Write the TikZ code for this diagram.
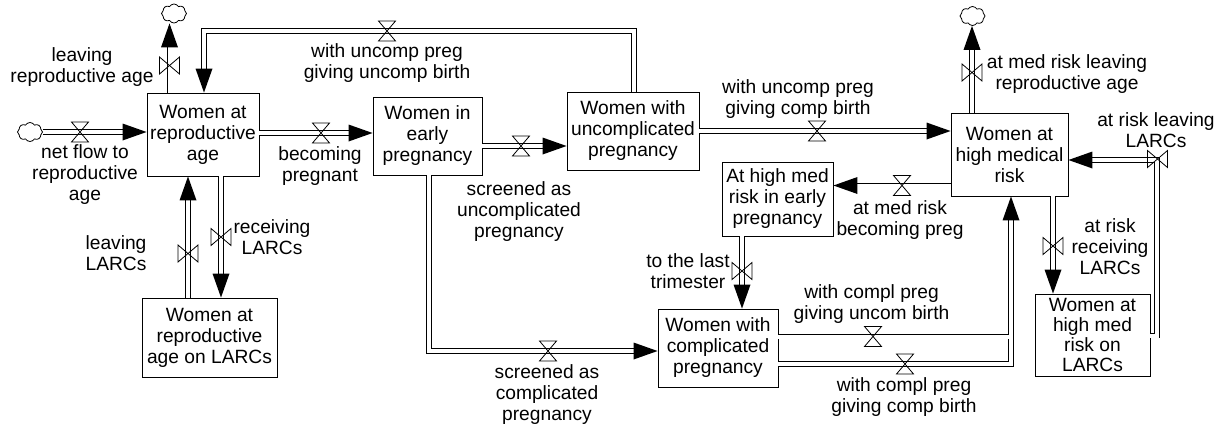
\documentclass[tikz,border=0pt]{standalone}
\usepackage{fontspec}
\setmainfont{Liberation Sans}
\usetikzlibrary{shapes.symbols,calc}
\tikzset{
  pics/hvalve/.style={code={\draw[line width=0.8pt] (-8.5,-10) -- (8.5,-10) -- (-8.5,10) -- (8.5,10) -- cycle;}},
  pics/vvalve/.style={code={\draw[line width=0.8pt] (-10,-8.5) -- (-10,8.5) -- (10,-8.5) -- (10,8.5) -- cycle;}},
  pics/tipR/.style={code={\fill (0,0) -- (-24,-8.5) -- (-24,8.5) -- cycle;}},
  pics/tipL/.style={code={\fill (0,0) -- (24,-8.5) -- (24,8.5) -- cycle;}},
  pics/tipU/.style={code={\fill (0,0) -- (-8.5,24) -- (8.5,24) -- cycle;}},
  pics/tipD/.style={code={\fill (0,0) -- (-8.5,-24) -- (8.5,-24) -- cycle;}},
}
\begin{document}
\begin{tikzpicture}[x=1pt,y=-1pt,
  stock/.style={draw, line width=0.9pt, rectangle, inner sep=0pt, align=center, font=\fontsize{19.2}{21}\selectfont},
  lbl/.style={align=center, inner sep=0pt, font=\fontsize{19.2}{21}\selectfont},
  pipe/.style={draw, line width=0.9pt, double=white, double distance=4pt},
  pipeA/.style={pipe, shorten >=10pt},
  cloudn/.style={cloud, draw, line width=0.8pt, cloud puffs=8, cloud puff arc=120, minimum width=25pt, minimum height=19pt, inner sep=0pt, aspect=1.4}]
\fill[white] (0,0) rectangle (1220,429);
\useasboundingbox (0,0) rectangle (1220,429);

% stocks
\node[stock, minimum width=112pt, minimum height=83pt] (b1) at (203,134.5) {Women at\\reproductive\\age};
\node[stock, minimum width=109pt, minimum height=78pt] (b2) at (427.5,136) {Women in\\early\\pregnancy};
\node[stock, minimum width=132pt, minimum height=78pt] (b3) at (633,131) {Women with\\uncomplicated\\pregnancy};
\node[stock, minimum width=117pt, minimum height=83pt] (b4) at (1009.5,154.5) {Women at\\high medical\\risk};
\node[stock, minimum width=111pt, minimum height=74pt] (b5) at (777.5,199) {At high med\\risk in early\\pregnancy};
\node[stock, minimum width=120pt, minimum height=78pt] (b6) at (718,348) {Women with\\complicated\\pregnancy};
\node[stock, minimum width=135pt, minimum height=79pt] (b7) at (209.5,337.5) {Women at\\reproductive\\age on LARCs};
\node[stock, minimum width=115pt, minimum height=82pt, font=\fontsize{19.2}{19.7}\selectfont] (b8) at (1092.5,335) {Women at\\high med\\risk on\\LARCs};

% clouds
\node[cloudn] (c1) at (30,132) {};
\node[cloudn] (c2) at (174,13.5) {};
\node[cloudn] (c3) at (972.5,16) {};

% pipes
\draw[pipeA] (c1.east) -- (c1.east -| b1.west);
\pic at (c1.east -| b1.west) {tipR};

\draw[pipeA] (169.5,0 |- b1.north) -- (169.5,0 |- c2.south);
\pic at (169.5,0 |- c2.south) {tipU};

\draw[pipeA] (634,0 |- b3.north) -- (634,31) -- (204,31) -- (204,0 |- b1.north);
\pic at (204,0 |- b1.north) {tipD};

\draw[pipeA] (b1.east |- 0,133) -- (b2.west |- 0,133);
\pic at (b2.west |- 0,133) {tipR};

\draw[pipeA] (b2.east |- 0,146) -- (b3.west |- 0,146);
\pic at (b3.west |- 0,146) {tipR};

\draw[pipeA] (429,0 |- b2.south) -- (429,351) -- (b6.west |- 0,351);
\pic at (b6.west |- 0,351) {tipR};

\draw[pipeA] (b3.east |- 0,131) -- (b4.west |- 0,131);
\pic at (b4.west |- 0,131) {tipR};

\draw[pipeA] (972,0 |- b4.north) -- (972,0 |- c3.south);
\pic at (972,0 |- c3.south) {tipU};

\draw[pipeA] (b4.west |- 0,185.5) -- (b5.east |- 0,185.5);
\pic at (b5.east |- 0,185.5) {tipL};

\draw[pipeA] (b8.east |- 0,335.5) -- (1157,335.5) -- (1157,160) -- (b4.east |- 0,160);
\pic at (b4.east |- 0,160) {tipL};

\draw[pipeA] (1053,0 |- b4.south) -- (1053,0 |- b8.north);
\pic at (1053,0 |- b8.north) {tipD};

\draw[pipeA] (742,0 |- b5.south) -- (742,0 |- b6.north);
\pic at (742,0 |- b6.north) {tipD};

\draw[pipeA] (b6.east |- 0,364) -- (1011,364) -- (1011,0 |- b4.south);
\draw[pipeA] (b6.east |- 0,336.5) -- (1011,336.5) -- (1011,0 |- b4.south);
\pic at (1011,0 |- b4.south) {tipU};

\draw[pipeA] (188,0 |- b7.north) -- (188,0 |- b1.south);
\pic at (188,0 |- b1.south) {tipU};

\draw[pipeA] (221,0 |- b1.south) -- (221,0 |- b7.north);
\pic at (221,0 |- b7.north) {tipD};

% valves
\coordinate (v1) at (80,132);    \pic at (v1) {hvalve};
\coordinate (v2) at (169.5,65.5);\pic at (v2) {vvalve};
\coordinate (v3) at (387,31);    \pic at (v3) {hvalve};
\coordinate (v4) at (321,133);   \pic at (v4) {hvalve};
\coordinate (v5) at (521,146);   \pic at (v5) {hvalve};
\coordinate (v6) at (548,351);   \pic at (v6) {hvalve};
\coordinate (v7) at (817,131);   \pic at (v7) {hvalve};
\coordinate (v8) at (972,72.5);  \pic at (v8) {vvalve};
\coordinate (v9) at (902,185.5); \pic at (v9) {hvalve};
\coordinate (v10) at (1157.5,159);\pic at (v10) {vvalve};
\coordinate (v11) at (1053,246); \pic at (v11) {vvalve};
\coordinate (v12) at (742,271);  \pic at (v12) {vvalve};
\coordinate (v13) at (873,336.5);\pic at (v13) {hvalve};
\coordinate (v14) at (905,364);  \pic at (v14) {hvalve};
\coordinate (v15) at (188,253.5);\pic at (v15) {vvalve};
\coordinate (v16) at (221,237);  \pic at (v16) {vvalve};

% labels
\node[lbl] (l1) at (85,175) {net flow to\\reproductive\\age};
\node[lbl] (l2) at (82,67) {leaving\\reproductive age};
\node[lbl] (l3) at (387,63.5) {with uncomp preg\\giving uncomp birth};
\node[lbl] (l4) at (320,166) {becoming\\pregnant};
\node[lbl] (l5) at (519,211.5) {screened as\\uncomplicated\\pregnancy};
\node[lbl] (l6) at (547,395) {screened as\\complicated\\pregnancy};
\node[lbl] (l7) at (798,99) {with uncomp preg\\giving comp birth};
\node[lbl] (l8) at (1067,74) {at med risk leaving\\reproductive age};
\node[lbl] (l9) at (1156,130.5) {at risk leaving\\LARCs};
\node[lbl] (l10) at (900,220) {at med risk\\becoming preg};
\node[lbl] (l11) at (1110,247) {at risk\\receiving\\LARCs};
\node[lbl] (l12) at (688,271.5) {to the last\\trimester};
\node[lbl] (l13) at (871.5,304.5) {with compl preg\\giving uncom birth};
\node[lbl] (l14) at (904,397.5) {with compl preg\\giving comp birth};
\node[lbl] (l15) at (116,253) {leaving\\LARCs};
\node[lbl] (l16) at (272,237.5) {receiving\\LARCs};
\end{tikzpicture}
\end{document}
